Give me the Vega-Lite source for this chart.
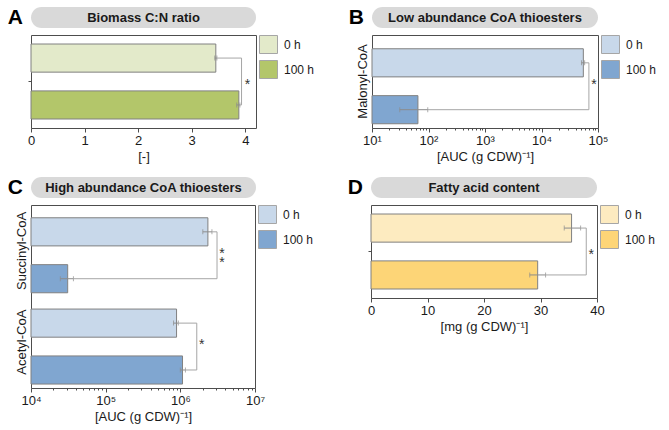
{
  "$schema": "https://vega.github.io/schema/vega-lite/v6.json",
  "padding": {"left": 7, "top": 6, "right": 0, "bottom": 0},
  "background": "white",
  "config": {
    "font": "Liberation Sans",
    "view": {"stroke": "#4d4d4d", "strokeWidth": 1},
    "axis": {"labelFontSize": 13, "labelColor": "#1a1a1a", "titleFontSize": 13, "titleFontWeight": "normal", "titleColor": "#1a1a1a", "tickColor": "#4d4d4d", "domain": false, "grid": false, "labelFlush": false, "labelOverlap": false, "labelPadding": 2, "titlePadding": 3},
    "legend": {"orient": "right", "symbolType": "square", "symbolSize": 324, "symbolStrokeColor": "#a6a6a6", "symbolStrokeWidth": 1, "labelFontSize": 12, "labelColor": "#1a1a1a", "rowPadding": 2, "offset": 3, "padding": 0, "labelOffset": 6}
  },
  "datasets": {
    "A": [
      {"group": "C:N", "time": "0 h", "value": 3.45, "lo": 3.43, "hi": 3.47},
      {"group": "C:N", "time": "100 h", "value": 3.88, "lo": 3.84, "hi": 3.9}
    ],
    "Abr": [
      {"group": "C:N", "time": "0 h", "x": 3.47, "ord": 1},
      {"group": "C:N", "time": "0 h", "x": 3.93, "ord": 2},
      {"group": "C:N", "time": "100 h", "x": 3.93, "ord": 3},
      {"group": "C:N", "time": "100 h", "x": 3.9, "ord": 4}
    ],
    "Astar": [{"group": "C:N", "x": 3.93, "label": "*"}],
    "B": [
      {"group": "Malonyl-CoA", "time": "0 h", "value": 55000, "lo": 51000, "hi": 58000},
      {"group": "Malonyl-CoA", "time": "100 h", "value": 65, "lo": 31, "hi": 97}
    ],
    "Bbr": [
      {"group": "Malonyl-CoA", "time": "0 h", "x": 58000, "ord": 1},
      {"group": "Malonyl-CoA", "time": "0 h", "x": 69000, "ord": 2},
      {"group": "Malonyl-CoA", "time": "100 h", "x": 69000, "ord": 3},
      {"group": "Malonyl-CoA", "time": "100 h", "x": 97, "ord": 4}
    ],
    "Bstar": [{"group": "Malonyl-CoA", "x": 69000, "label": "*"}],
    "C": [
      {"group": "Succinyl-CoA", "time": "0 h", "value": 2340000, "lo": 2000000, "hi": 2650000},
      {"group": "Succinyl-CoA", "time": "100 h", "value": 31000, "lo": 24700, "hi": 37000},
      {"group": "Acetyl-CoA", "time": "0 h", "value": 890000, "lo": 810000, "hi": 940000},
      {"group": "Acetyl-CoA", "time": "100 h", "value": 1070000, "lo": 1000000, "hi": 1170000}
    ],
    "Cbr": [
      {"group": "Succinyl-CoA", "time": "0 h", "x": 2650000, "ord": 1},
      {"group": "Succinyl-CoA", "time": "0 h", "x": 3100000, "ord": 2},
      {"group": "Succinyl-CoA", "time": "100 h", "x": 3100000, "ord": 3},
      {"group": "Succinyl-CoA", "time": "100 h", "x": 37000, "ord": 4},
      {"group": "Acetyl-CoA", "time": "0 h", "x": 940000, "ord": 1},
      {"group": "Acetyl-CoA", "time": "0 h", "x": 1660000, "ord": 2},
      {"group": "Acetyl-CoA", "time": "100 h", "x": 1660000, "ord": 3},
      {"group": "Acetyl-CoA", "time": "100 h", "x": 1170000, "ord": 4}
    ],
    "Cstar": [
      {"group": "Succinyl-CoA", "x": 3100000, "label": "*\n*"},
      {"group": "Acetyl-CoA", "x": 1660000, "label": "*"}
    ],
    "D": [
      {"group": "FA", "time": "0 h", "value": 35.5, "lo": 34.2, "hi": 37.1},
      {"group": "FA", "time": "100 h", "value": 29.5, "lo": 28.1, "hi": 30.9}
    ],
    "Dbr": [
      {"group": "FA", "time": "0 h", "x": 37.1, "ord": 1},
      {"group": "FA", "time": "0 h", "x": 38.1, "ord": 2},
      {"group": "FA", "time": "100 h", "x": 38.1, "ord": 3},
      {"group": "FA", "time": "100 h", "x": 30.9, "ord": 4}
    ],
    "Dstar": [{"group": "FA", "x": 38.1, "label": "*"}]
  },
  "spacing": 12,
  "resolve": {"scale": {"fill": "independent"}, "legend": {"fill": "independent"}},
  "vconcat": [
    {
      "spacing": 32,
      "resolve": {"scale": {"fill": "independent"}, "legend": {"fill": "independent"}},
      "hconcat": [
        {
          "spacing": 6,
          "resolve": {"scale": {"fill": "independent"}, "legend": {"fill": "independent"}},
          "vconcat": [
            {
              "width": 225, "height": 21,
              "view": {"fill": "#d9d9d9", "stroke": null, "cornerRadius": 10.5},
              "title": {"text": "A", "orient": "left", "angle": 0, "align": "right", "baseline": "middle", "anchor": "middle", "fontSize": 21, "fontWeight": "bold", "color": "#000000", "offset": -7},
              "data": {"values": [{"t": "Biomass C:N ratio"}]},
              "mark": {"type": "text", "fontSize": 13, "fontWeight": "bold", "color": "#1a1a1a"},
              "encoding": {"text": {"field": "t", "type": "nominal"}}
            },
            {
              "width": 225, "height": 93,
              "layer": [
                {
                  "data": {"name": "A"},
                  "mark": {"type": "bar", "stroke": "#808080", "strokeWidth": 1},
                  "encoding": {
                    "y": {"field": "group", "type": "nominal", "title": null, "scale": {"paddingInner": 0, "paddingOuter": 0.12}, "axis": {"labels": false, "ticks": true, "tickSize": 3}},
                    "yOffset": {"field": "time", "type": "nominal", "scale": {"domain": ["0 h", "100 h"], "paddingInner": 0.4, "paddingOuter": 0}},
                    "x": {"field": "value", "type": "quantitative", "title": "[-]", "scale": {"domain": [0, 4.2], "nice": false},
                      "axis": {"values": [0, 0.5, 1, 1.5, 2, 2.5, 3, 3.5, 4], "labelExpr": "datum.value % 1 == 0 ? format(datum.value, 'd') : ''", "tickSize": {"condition": {"test": "datum.value % 1 != 0", "value": 2}, "value": 4}}},
                    "fill": {"field": "time", "type": "nominal", "scale": {"domain": ["0 h", "100 h"], "range": ["#e3eaca", "#b3c66a"]}, "legend": {"title": null}}
                  }
                },
                {
                  "data": {"name": "A"},
                  "mark": {"type": "rule", "color": "#8c8c8c", "strokeWidth": 1},
                  "encoding": {"y": {"field": "group", "type": "nominal"}, "yOffset": {"field": "time", "type": "nominal"}, "x": {"field": "lo", "type": "quantitative"}, "x2": {"field": "hi"}}
                },
                {
                  "data": {"name": "A"},
                  "mark": {"type": "tick", "color": "#8c8c8c", "thickness": 1, "size": 5},
                  "encoding": {"y": {"field": "group", "type": "nominal"}, "yOffset": {"field": "time", "type": "nominal"}, "x": {"field": "lo", "type": "quantitative"}}
                },
                {
                  "data": {"name": "A"},
                  "mark": {"type": "tick", "color": "#8c8c8c", "thickness": 1, "size": 5},
                  "encoding": {"y": {"field": "group", "type": "nominal"}, "yOffset": {"field": "time", "type": "nominal"}, "x": {"field": "hi", "type": "quantitative"}}
                },
                {
                  "data": {"name": "Abr"},
                  "mark": {"type": "line", "color": "#a6a6a6", "strokeWidth": 1},
                  "encoding": {"y": {"field": "group", "type": "nominal"}, "yOffset": {"field": "time", "type": "nominal"}, "x": {"field": "x", "type": "quantitative"}, "order": {"field": "ord"}, "detail": {"field": "group"}}
                },
                {
                  "data": {"name": "Astar"},
                  "mark": {"type": "text", "fontSize": 14, "dx": 6, "dy": 3, "align": "center", "baseline": "middle", "lineBreak": "\n", "lineHeight": 9, "color": "#333333"},
                  "encoding": {"y": {"field": "group", "type": "nominal"}, "x": {"field": "x", "type": "quantitative"}, "text": {"field": "label"}}
                }
              ]
            }
          ]
        },
        {
          "spacing": 6,
          "resolve": {"scale": {"fill": "independent"}, "legend": {"fill": "independent"}},
          "vconcat": [
            {
              "width": 226, "height": 21,
              "view": {"fill": "#d9d9d9", "stroke": null, "cornerRadius": 10.5},
              "title": {"text": "B", "orient": "left", "angle": 0, "align": "right", "baseline": "middle", "anchor": "middle", "fontSize": 21, "fontWeight": "bold", "color": "#000000", "offset": -7},
              "data": {"values": [{"t": "Low abundance CoA thioesters"}]},
              "mark": {"type": "text", "fontSize": 13, "fontWeight": "bold", "color": "#1a1a1a"},
              "encoding": {"text": {"field": "t", "type": "nominal"}}
            },
            {
              "width": 226, "height": 93,
              "layer": [
                {
                  "data": {"name": "B"},
                  "mark": {"type": "bar", "stroke": "#808080", "strokeWidth": 1},
                  "encoding": {
                    "y": {"field": "group", "type": "nominal", "title": null, "scale": {"paddingInner": 0, "paddingOuter": 0.21}, "axis": {"labels": true, "ticks": false, "labelAngle": -90, "labelAlign": "center", "labelBaseline": "bottom", "labelPadding": 3}},
                    "yOffset": {"field": "time", "type": "nominal", "scale": {"domain": ["0 h", "100 h"], "paddingInner": 0.19, "paddingOuter": 0}},
                    "x": {"field": "value", "type": "quantitative", "title": "[AUC (g CDW)⁻¹]", "scale": {"type": "log", "domain": [10, 100000], "nice": false},
                      "axis": {"values": [10, 20, 30, 40, 50, 60, 70, 80, 90, 100, 200, 300, 400, 500, 600, 700, 800, 900, 1000, 2000, 3000, 4000, 5000, 6000, 7000, 8000, 9000, 10000, 20000, 30000, 40000, 50000, 60000, 70000, 80000, 90000, 100000],
                        "labelExpr": "abs(log(datum.value)/LN10 - round(log(datum.value)/LN10)) < 0.001 ? '10' + substring('⁰¹²³⁴⁵⁶⁷⁸⁹', round(log(datum.value)/LN10), round(log(datum.value)/LN10) + 1) : ''",
                        "tickSize": {"condition": {"test": "abs(log(datum.value)/LN10 - round(log(datum.value)/LN10)) > 0.001", "value": 2}, "value": 4}}},
                    "x2": {"datum": 10},
                    "fill": {"field": "time", "type": "nominal", "scale": {"domain": ["0 h", "100 h"], "range": ["#c8d8ea", "#80a6d0"]}, "legend": {"title": null}}
                  }
                },
                {
                  "data": {"name": "B"},
                  "mark": {"type": "rule", "color": "#8c8c8c", "strokeWidth": 1},
                  "encoding": {"y": {"field": "group", "type": "nominal"}, "yOffset": {"field": "time", "type": "nominal"}, "x": {"field": "lo", "type": "quantitative"}, "x2": {"field": "hi"}}
                },
                {
                  "data": {"name": "B"},
                  "mark": {"type": "tick", "color": "#8c8c8c", "thickness": 1, "size": 5},
                  "encoding": {"y": {"field": "group", "type": "nominal"}, "yOffset": {"field": "time", "type": "nominal"}, "x": {"field": "lo", "type": "quantitative"}}
                },
                {
                  "data": {"name": "B"},
                  "mark": {"type": "tick", "color": "#8c8c8c", "thickness": 1, "size": 5},
                  "encoding": {"y": {"field": "group", "type": "nominal"}, "yOffset": {"field": "time", "type": "nominal"}, "x": {"field": "hi", "type": "quantitative"}}
                },
                {
                  "data": {"name": "Bbr"},
                  "mark": {"type": "line", "color": "#a6a6a6", "strokeWidth": 1},
                  "encoding": {"y": {"field": "group", "type": "nominal"}, "yOffset": {"field": "time", "type": "nominal"}, "x": {"field": "x", "type": "quantitative"}, "order": {"field": "ord"}, "detail": {"field": "group"}}
                },
                {
                  "data": {"name": "Bstar"},
                  "mark": {"type": "text", "fontSize": 14, "dx": 5, "dy": 3, "align": "center", "baseline": "middle", "lineBreak": "\n", "lineHeight": 9, "color": "#333333"},
                  "encoding": {"y": {"field": "group", "type": "nominal"}, "x": {"field": "x", "type": "quantitative"}, "text": {"field": "label"}}
                }
              ]
            }
          ]
        }
      ]
    },
    {
      "spacing": 32,
      "resolve": {"scale": {"fill": "independent"}, "legend": {"fill": "independent"}},
      "hconcat": [
        {
          "spacing": 6,
          "resolve": {"scale": {"fill": "independent"}, "legend": {"fill": "independent"}},
          "vconcat": [
            {
              "width": 225, "height": 21,
              "view": {"fill": "#d9d9d9", "stroke": null, "cornerRadius": 10.5},
              "title": {"text": "C", "orient": "left", "angle": 0, "align": "right", "baseline": "middle", "anchor": "middle", "fontSize": 21, "fontWeight": "bold", "color": "#000000", "offset": -7},
              "data": {"values": [{"t": "High abundance CoA thioesters"}]},
              "mark": {"type": "text", "fontSize": 13, "fontWeight": "bold", "color": "#1a1a1a"},
              "encoding": {"text": {"field": "t", "type": "nominal"}}
            },
            {
              "width": 224, "height": 183,
              "layer": [
                {
                  "data": {"name": "C"},
                  "mark": {"type": "bar", "stroke": "#808080", "strokeWidth": 1},
                  "encoding": {
                    "y": {"field": "group", "type": "nominal", "title": null, "sort": ["Succinyl-CoA", "Acetyl-CoA"], "scale": {"paddingInner": 0.275, "paddingOuter": 0.14}, "axis": {"labels": true, "ticks": false, "labelAngle": -90, "labelAlign": "center", "labelBaseline": "bottom", "labelPadding": 3}},
                    "yOffset": {"field": "time", "type": "nominal", "scale": {"domain": ["0 h", "100 h"], "paddingInner": 0.19, "paddingOuter": 0}},
                    "x": {"field": "value", "type": "quantitative", "title": "[AUC (g CDW)⁻¹]", "scale": {"type": "log", "domain": [10000, 10000000], "nice": false},
                      "axis": {"values": [10000, 20000, 30000, 40000, 50000, 60000, 70000, 80000, 90000, 100000, 200000, 300000, 400000, 500000, 600000, 700000, 800000, 900000, 1000000, 2000000, 3000000, 4000000, 5000000, 6000000, 7000000, 8000000, 9000000, 10000000],
                        "labelExpr": "abs(log(datum.value)/LN10 - round(log(datum.value)/LN10)) < 0.001 ? '10' + substring('⁰¹²³⁴⁵⁶⁷⁸⁹', round(log(datum.value)/LN10), round(log(datum.value)/LN10) + 1) : ''",
                        "tickSize": {"condition": {"test": "abs(log(datum.value)/LN10 - round(log(datum.value)/LN10)) > 0.001", "value": 2}, "value": 4}}},
                    "x2": {"datum": 10000},
                    "fill": {"field": "time", "type": "nominal", "scale": {"domain": ["0 h", "100 h"], "range": ["#c8d8ea", "#80a6d0"]}, "legend": {"title": null}}
                  }
                },
                {
                  "data": {"name": "C"},
                  "mark": {"type": "rule", "color": "#8c8c8c", "strokeWidth": 1},
                  "encoding": {"y": {"field": "group", "type": "nominal", "sort": ["Succinyl-CoA", "Acetyl-CoA"]}, "yOffset": {"field": "time", "type": "nominal"}, "x": {"field": "lo", "type": "quantitative"}, "x2": {"field": "hi"}}
                },
                {
                  "data": {"name": "C"},
                  "mark": {"type": "tick", "color": "#8c8c8c", "thickness": 1, "size": 5},
                  "encoding": {"y": {"field": "group", "type": "nominal", "sort": ["Succinyl-CoA", "Acetyl-CoA"]}, "yOffset": {"field": "time", "type": "nominal"}, "x": {"field": "lo", "type": "quantitative"}}
                },
                {
                  "data": {"name": "C"},
                  "mark": {"type": "tick", "color": "#8c8c8c", "thickness": 1, "size": 5},
                  "encoding": {"y": {"field": "group", "type": "nominal", "sort": ["Succinyl-CoA", "Acetyl-CoA"]}, "yOffset": {"field": "time", "type": "nominal"}, "x": {"field": "hi", "type": "quantitative"}}
                },
                {
                  "data": {"name": "Cbr"},
                  "mark": {"type": "line", "color": "#a6a6a6", "strokeWidth": 1},
                  "encoding": {"y": {"field": "group", "type": "nominal", "sort": ["Succinyl-CoA", "Acetyl-CoA"]}, "yOffset": {"field": "time", "type": "nominal"}, "x": {"field": "x", "type": "quantitative"}, "order": {"field": "ord"}, "detail": {"field": "group"}}
                },
                {
                  "data": {"name": "Cstar"},
                  "mark": {"type": "text", "fontSize": 14, "dx": 5, "dy": 3, "align": "center", "baseline": "middle", "lineBreak": "\n", "lineHeight": 9, "color": "#333333"},
                  "encoding": {"y": {"field": "group", "type": "nominal", "sort": ["Succinyl-CoA", "Acetyl-CoA"]}, "x": {"field": "x", "type": "quantitative"}, "text": {"field": "label"}}
                }
              ]
            }
          ]
        },
        {
          "spacing": 6,
          "resolve": {"scale": {"fill": "independent"}, "legend": {"fill": "independent"}},
          "vconcat": [
            {
              "width": 226, "height": 21,
              "view": {"fill": "#d9d9d9", "stroke": null, "cornerRadius": 10.5},
              "title": {"text": "D", "orient": "left", "angle": 0, "align": "right", "baseline": "middle", "anchor": "middle", "fontSize": 21, "fontWeight": "bold", "color": "#000000", "offset": -7},
              "data": {"values": [{"t": "Fatty acid content"}]},
              "mark": {"type": "text", "fontSize": 13, "fontWeight": "bold", "color": "#1a1a1a"},
              "encoding": {"text": {"field": "t", "type": "nominal"}}
            },
            {
              "width": 226, "height": 93,
              "layer": [
                {
                  "data": {"name": "D"},
                  "mark": {"type": "bar", "stroke": "#808080", "strokeWidth": 1},
                  "encoding": {
                    "y": {"field": "group", "type": "nominal", "title": null, "scale": {"paddingInner": 0, "paddingOuter": 0.12}, "axis": {"labels": false, "ticks": true, "tickSize": 3}},
                    "yOffset": {"field": "time", "type": "nominal", "scale": {"domain": ["0 h", "100 h"], "paddingInner": 0.4, "paddingOuter": 0}},
                    "x": {"field": "value", "type": "quantitative", "title": "[mg (g CDW)⁻¹]", "scale": {"domain": [0, 40], "nice": false},
                      "axis": {"values": [0, 5, 10, 15, 20, 25, 30, 35, 40], "labelExpr": "datum.value % 10 == 0 ? datum.label : ''", "tickSize": {"condition": {"test": "datum.value % 10 != 0", "value": 2}, "value": 4}}},
                    "fill": {"field": "time", "type": "nominal", "scale": {"domain": ["0 h", "100 h"], "range": ["#fdebc0", "#fdd577"]}, "legend": {"title": null}}
                  }
                },
                {
                  "data": {"name": "D"},
                  "mark": {"type": "rule", "color": "#8c8c8c", "strokeWidth": 1},
                  "encoding": {"y": {"field": "group", "type": "nominal"}, "yOffset": {"field": "time", "type": "nominal"}, "x": {"field": "lo", "type": "quantitative"}, "x2": {"field": "hi"}}
                },
                {
                  "data": {"name": "D"},
                  "mark": {"type": "tick", "color": "#8c8c8c", "thickness": 1, "size": 5},
                  "encoding": {"y": {"field": "group", "type": "nominal"}, "yOffset": {"field": "time", "type": "nominal"}, "x": {"field": "lo", "type": "quantitative"}}
                },
                {
                  "data": {"name": "D"},
                  "mark": {"type": "tick", "color": "#8c8c8c", "thickness": 1, "size": 5},
                  "encoding": {"y": {"field": "group", "type": "nominal"}, "yOffset": {"field": "time", "type": "nominal"}, "x": {"field": "hi", "type": "quantitative"}}
                },
                {
                  "data": {"name": "Dbr"},
                  "mark": {"type": "line", "color": "#a6a6a6", "strokeWidth": 1},
                  "encoding": {"y": {"field": "group", "type": "nominal"}, "yOffset": {"field": "time", "type": "nominal"}, "x": {"field": "x", "type": "quantitative"}, "order": {"field": "ord"}, "detail": {"field": "group"}}
                },
                {
                  "data": {"name": "Dstar"},
                  "mark": {"type": "text", "fontSize": 14, "dx": 5, "dy": 3, "align": "center", "baseline": "middle", "lineBreak": "\n", "lineHeight": 9, "color": "#333333"},
                  "encoding": {"y": {"field": "group", "type": "nominal"}, "x": {"field": "x", "type": "quantitative"}, "text": {"field": "label"}}
                }
              ]
            }
          ]
        }
      ]
    }
  ]
}
